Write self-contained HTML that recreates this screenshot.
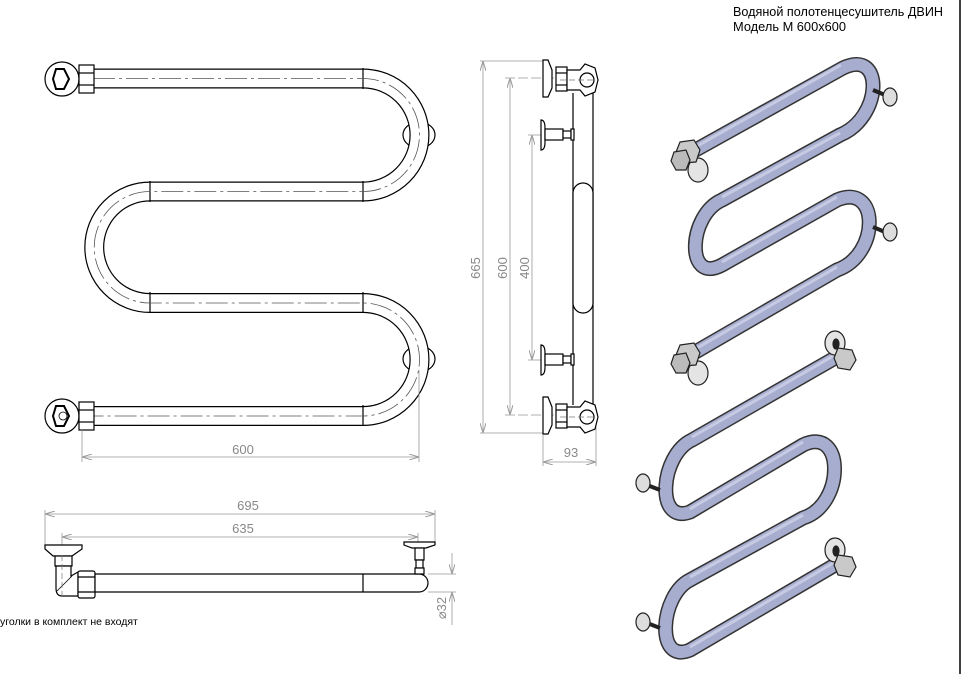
<!DOCTYPE html>
<html><head><meta charset="utf-8"><style>
html,body{margin:0;padding:0;background:#fff;width:962px;height:674px;overflow:hidden}
svg{display:block}
.t{font-family:"Liberation Sans Narrow","Liberation Sans",sans-serif;}
</style></head><body>
<svg width="962" height="674" viewBox="0 0 962 674" xmlns="http://www.w3.org/2000/svg">
<defs>
<marker id="ar" viewBox="0 0 10 6" refX="10" refY="3" markerWidth="10" markerHeight="6" orient="auto-start-reverse" markerUnits="userSpaceOnUse"><path d="M0,0 L10,3 L0,6" fill="none" stroke="#999" stroke-width="1"/></marker>
</defs>
<line x1="960" y1="0" x2="960" y2="674" stroke="#000" stroke-width="1.5"/>
<text class="t" x="733" y="16" font-size="13" textLength="210" lengthAdjust="spacingAndGlyphs">Водяной полотенцесушитель ДВИН</text>
<text class="t" x="733" y="31" font-size="13" textLength="113" lengthAdjust="spacingAndGlyphs">Модель М 600х600</text>

<!-- FRONT VIEW -->
<g stroke="#000" stroke-width="1.2" fill="#fff">
<ellipse cx="419" cy="135" rx="16" ry="13"/>
<ellipse cx="419" cy="359" rx="16" ry="13"/>
</g>
<path d="M94,78.5 H363 A56.5,56.5 0 0 1 363,191.5 H150 A55.75,55.75 0 0 0 150,303 H363 A56.5,56.5 0 0 1 363,416 H94" fill="none" stroke="#000" stroke-width="20"/>
<path d="M94,78.5 H363 A56.5,56.5 0 0 1 363,191.5 H150 A55.75,55.75 0 0 0 150,303 H363 A56.5,56.5 0 0 1 363,416 H94" fill="none" stroke="#fff" stroke-width="17.6"/>
<g stroke="#000" stroke-width="1.2">
<line x1="363" y1="68" x2="363" y2="89"/><line x1="363" y1="181" x2="363" y2="202"/>
<line x1="150" y1="181" x2="150" y2="202"/><line x1="150" y1="292" x2="150" y2="313"/>
<line x1="363" y1="292" x2="363" y2="313"/><line x1="363" y1="405" x2="363" y2="426"/>
</g>
<g fill="none" stroke="#555" stroke-width="0.8" stroke-dasharray="22,4,3,4">
<path d="M60,78.5 H363 A56.5,56.5 0 0 1 363,191.5 H150 A55.75,55.75 0 0 0 150,303 H363 A56.5,56.5 0 0 1 363,416 H60"/>
</g>
<!-- end fittings -->
<g stroke="#000" stroke-width="1.2" fill="#fff">
<circle cx="62" cy="79" r="17"/>
<polygon points="56,69 64,69 69,79 64,89 56,89 53,79" stroke-width="2"/>
<rect x="79" y="65" width="15" height="28"/>
<line x1="79" y1="73" x2="94" y2="73"/><line x1="79" y1="85" x2="94" y2="85"/>
<circle cx="62" cy="416" r="17"/>
<polygon points="56,406 64,406 69,416 64,426 56,426 53,416" stroke-width="2"/>
<circle cx="63" cy="416" r="4" stroke-width="0.8"/>
<rect x="79" y="402" width="15" height="28"/>
<line x1="79" y1="410" x2="94" y2="410"/><line x1="79" y1="422" x2="94" y2="422"/>
</g>
<!-- 600 dim -->
<g stroke="#999" stroke-width="0.8" fill="none">
<line x1="82" y1="430" x2="82" y2="462"/><line x1="419" y1="370" x2="419" y2="462"/>
<line x1="82" y1="457" x2="419" y2="457" marker-start="url(#ar)" marker-end="url(#ar)"/>
</g>
<text class="t" x="243" y="454" font-size="13" fill="#888" text-anchor="middle">600</text>

<!-- SIDE VIEW -->
<g stroke="#999" stroke-width="0.8" fill="none">
<line x1="480" y1="61" x2="543" y2="61"/><line x1="480" y1="433" x2="543" y2="433"/>
<line x1="505" y1="78" x2="590" y2="78" stroke-dasharray="10,3"/><line x1="505" y1="415" x2="590" y2="415" stroke-dasharray="10,3"/>
<line x1="528" y1="135" x2="545" y2="135"/><line x1="528" y1="360" x2="545" y2="360"/>
<line x1="483" y1="61" x2="483" y2="433" marker-start="url(#ar)" marker-end="url(#ar)"/>
<line x1="510" y1="78" x2="510" y2="415" marker-start="url(#ar)" marker-end="url(#ar)"/>
<line x1="532" y1="135" x2="532" y2="360" marker-start="url(#ar)" marker-end="url(#ar)"/>
<line x1="543" y1="435" x2="543" y2="466"/><line x1="596" y1="420" x2="596" y2="466"/>
<line x1="543" y1="462" x2="596" y2="462" marker-start="url(#ar)" marker-end="url(#ar)"/>
</g>
<g class="t" font-size="13" fill="#888" text-anchor="middle">
<text transform="translate(480,268) rotate(-90)">665</text>
<text transform="translate(507,268) rotate(-90)">600</text>
<text transform="translate(529,268) rotate(-90)">400</text>
<text x="571" y="457">93</text>
</g>
<g stroke="#000" stroke-width="1.2" fill="#fff">
<line x1="573" y1="93" x2="573" y2="405"/><line x1="593" y1="93" x2="593" y2="405"/>
<rect x="573" y="183" width="20" height="130" rx="10"/>
<path d="M543,60 V97 L548,97 L552,88 V70 L548,60 Z"/>
<rect x="556" y="67" width="11" height="24"/>
<line x1="556" y1="73" x2="567" y2="73"/><line x1="556" y1="85" x2="567" y2="85"/>
<path d="M567,70 H580 L585,64 L595,68 L598,80 L595,92 L585,96 L580,90 H567 Z"/>
<circle cx="587" cy="80" r="7"/>
<path d="M543,397 V434 L548,434 L552,425 V407 L548,397 Z"/>
<rect x="556" y="404" width="11" height="24"/>
<line x1="556" y1="410" x2="567" y2="410"/><line x1="556" y1="422" x2="567" y2="422"/>
<path d="M567,407 H580 L585,401 L595,405 L598,417 L595,429 L585,433 L580,427 H567 Z"/>
<circle cx="587" cy="417" r="7"/>
<path d="M541,120 Q545,120 545,128 V142 Q545,150 541,150 Z"/>
<rect x="545" y="129" width="18" height="11"/><rect x="563" y="131" width="8" height="7"/><rect x="571" y="129" width="3" height="11"/>
<path d="M541,345 Q545,345 545,353 V367 Q545,375 541,375 Z"/>
<rect x="545" y="354" width="18" height="11"/><rect x="563" y="356" width="8" height="7"/><rect x="571" y="354" width="3" height="11"/>
</g>
<g stroke="#777" stroke-width="0.8" stroke-dasharray="6,3"><line x1="560" y1="80" x2="595" y2="80"/><line x1="560" y1="417" x2="595" y2="417"/></g>

<!-- TOP VIEW -->
<g stroke="#999" stroke-width="0.8" fill="none">
<line x1="45" y1="510" x2="45" y2="546"/><line x1="435" y1="510" x2="435" y2="545"/>
<line x1="62" y1="533" x2="62" y2="592"/><line x1="418" y1="533" x2="418" y2="543"/>
<line x1="45" y1="514" x2="435" y2="514" marker-start="url(#ar)" marker-end="url(#ar)"/>
<line x1="62" y1="537" x2="418" y2="537" marker-start="url(#ar)" marker-end="url(#ar)"/>
<line x1="428" y1="574" x2="456" y2="574"/><line x1="428" y1="592" x2="456" y2="592"/>
<line x1="452" y1="553" x2="452" y2="574" marker-end="url(#ar)"/>
<line x1="452" y1="592" x2="452" y2="625" marker-start="url(#ar)"/>
</g>
<g class="t" font-size="13" fill="#888" text-anchor="middle">
<text x="248" y="510">695</text>
<text x="243" y="533">635</text>
<text transform="translate(446,608) rotate(-90)">⌀32</text>
</g>
<g stroke="#000" stroke-width="1.2" fill="#fff">
<path d="M45,545 H82 V549 L72,556 H53 L45,549 Z"/>
<rect x="55" y="556" width="17" height="10"/>
<path d="M56,566 H71 V576 L78,572 V596 H62 Q56,596 56,588 Z"/>
<line x1="57" y1="591" x2="72" y2="576" stroke-width="0.8"/>
<rect x="78" y="571" width="17" height="27" rx="2"/>
<line x1="78" y1="577" x2="95" y2="577"/><line x1="78" y1="592" x2="95" y2="592"/>
<path d="M95,574 H419 A9,9 0 0 1 419,592 H95 Z"/>
<line x1="363" y1="574" x2="363" y2="592"/>
<path d="M404,542 H435 V545 L426,548 H412 L404,545 Z"/>
<rect x="415" y="548" width="9" height="12"/>
<rect x="416" y="560" width="7" height="8"/>
<rect x="415" y="568" width="9" height="6"/>
</g>
<g stroke="#777" stroke-width="0.7" stroke-dasharray="6,3"><line x1="62" y1="555" x2="62" y2="600"/></g>
<text x="0" y="625" font-family="Liberation Sans, sans-serif" font-size="10.5" fill="#000">уголки в комплект не входят</text>

<!-- ISOMETRIC VIEW -->
<g fill="none" stroke-linecap="butt" stroke-linejoin="round">
<path d="M692,152 L843,68 C885,48 882,118 840,135 L722,200 C688,215 685,285 722,265 L837,200 C880,182 880,255 837,270 L692,354" stroke="#333" stroke-width="15"/>
<path d="M692,152 L843,68 C885,48 882,118 840,135 L722,200 C688,215 685,285 722,265 L837,200 C880,182 880,255 837,270 L692,354" stroke="#a7adcf" stroke-width="12"/>
<path d="M692,149 L841,65 M840,133 L722,197 M722,262 L837,197 M837,267 L692,351" stroke="#c6cae2" stroke-width="3"/>
<path d="M835,358 L692,440 C660,455 655,525 690,512 L803,445 C845,425 845,505 803,518 L690,580 C660,595 655,665 690,650 L835,565" stroke="#333" stroke-width="15"/>
<path d="M835,358 L692,440 C660,455 655,525 690,512 L803,445 C845,425 845,505 803,518 L690,580 C660,595 655,665 690,650 L835,565" stroke="#a7adcf" stroke-width="12"/>
<path d="M835,355 L692,437 M690,509 L803,442 M803,515 L690,577 M690,647 L835,562" stroke="#c6cae2" stroke-width="3"/>
</g>
<g stroke="#222" stroke-width="1.2">
<line x1="873" y1="90" x2="885" y2="95" stroke-width="4"/>
<ellipse cx="890" cy="97" rx="7" ry="9" fill="#ddd"/>
<line x1="873" y1="227" x2="885" y2="232" stroke-width="4"/>
<ellipse cx="890" cy="232" rx="7" ry="9" fill="#ddd"/>
<line x1="660" y1="490" x2="647" y2="485" stroke-width="4"/>
<ellipse cx="643" cy="483" rx="7" ry="9" fill="#ddd"/>
<line x1="660" y1="628" x2="647" y2="623" stroke-width="4"/>
<ellipse cx="643" cy="622" rx="7" ry="9" fill="#ddd"/>
<ellipse cx="698" cy="170" rx="10" ry="12" fill="#e4e4e4"/>
<polygon points="680,142 694,140 700,150 696,162 682,163 676,152" fill="#c9c9c9"/>
<polygon points="674,152 686,150 690,160 686,170 676,170 671,161" fill="#bbb"/>
<ellipse cx="698" cy="373" rx="10" ry="12" fill="#e4e4e4"/>
<polygon points="680,345 694,343 700,353 696,365 682,366 676,355" fill="#c9c9c9"/>
<polygon points="674,355 686,353 690,363 686,373 676,373 671,364" fill="#bbb"/>
<ellipse cx="835" cy="343" rx="10" ry="12" fill="#e4e4e4"/>
<ellipse cx="836" cy="344" rx="3" ry="5" fill="#222"/>
<polygon points="838,348 852,350 856,360 850,370 838,368 834,358" fill="#c9c9c9"/>
<ellipse cx="835" cy="550" rx="10" ry="12" fill="#e4e4e4"/>
<ellipse cx="836" cy="551" rx="3" ry="5" fill="#222"/>
<polygon points="838,555 852,557 856,567 850,577 838,575 834,565" fill="#c9c9c9"/>
</g>
</svg>
</body></html>
